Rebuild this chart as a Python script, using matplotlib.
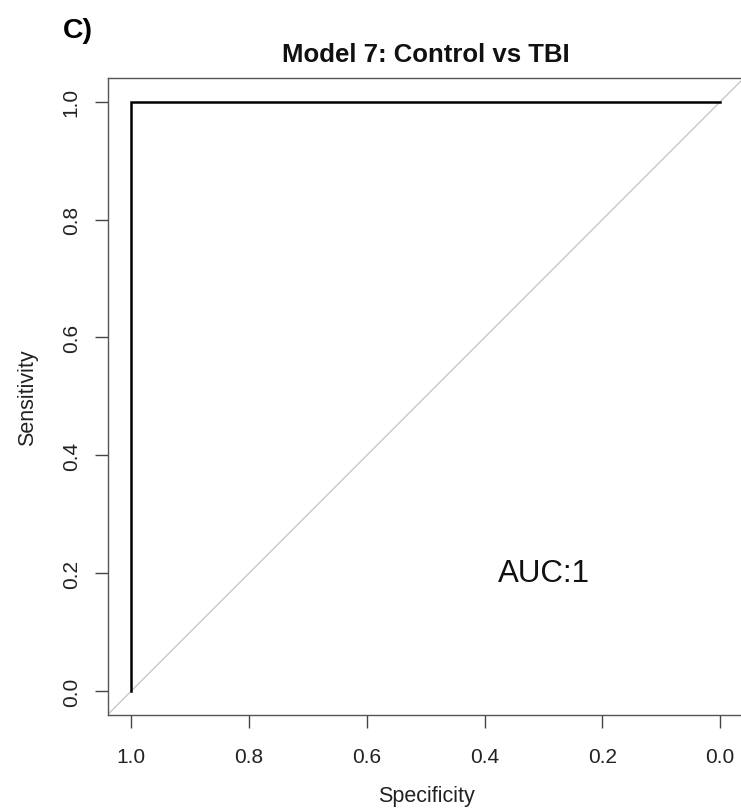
import matplotlib
matplotlib.use("Agg")
import matplotlib.pyplot as plt

# ---- data ----
specificity = [1.0, 1.0, 0.0]
sensitivity = [0.0, 1.0, 1.0]
tick_values = [1.0, 0.8, 0.6, 0.4, 0.2, 0.0]
xtick_labels = ["1.0", "0.8", "0.6", "0.4", "0.2", "0.0"]
ytick_values = [0.0, 0.2, 0.4, 0.6, 0.8, 1.0]
ytick_labels = ["0.0", "0.2", "0.4", "0.6", "0.8", "1.0"]
title = "Model 7: Control vs TBI"
panel_label = "C)"
auc_text = "AUC:1"

plt.rcParams['font.family'] = ['Liberation Sans', 'DejaVu Sans']

W, H = 741, 812
fig = plt.figure(figsize=(W / 100, H / 100), dpi=100)
left_px, right_px, top_px, bottom_px = 107.7, 743.8, 79.1, 715.6
ax = fig.add_axes([left_px / W, (H - bottom_px) / H,
                   (right_px - left_px) / W, (bottom_px - top_px) / H])
ax.set_xlim(1.04, -0.04)
ax.set_ylim(-0.04, 1.04)

# diagonal reference line
ax.axline((1, 0), (0, 1), color='#bdbdbd', lw=0.8, zorder=1)
# ROC curve
ax.plot(specificity, sensitivity, color='black', lw=1.8,
        solid_joinstyle='miter', zorder=2)

for s in ax.spines.values():
    s.set_color('#555555')
    s.set_linewidth(1.0)

ax.set_xticks(tick_values)
ax.set_xticklabels(xtick_labels)
ax.set_yticks(ytick_values)
ax.set_yticklabels(ytick_labels, rotation=90, va='center')
ax.tick_params(axis='both', length=9.4, width=1.0, color='#444444',
               labelsize=15, labelcolor='#222222')
ax.tick_params(axis='x', pad=14)
ax.tick_params(axis='y', pad=10)

ax.text(0.3, 0.2, auc_text, fontsize=22.5, ha='center', va='center',
        color='#111111')

# labels and titles at pixel positions
fig.text(426 / W, 1 - 797 / H, "Specificity", fontsize=15.5,
         ha='center', va='center', color='#222222')
fig.text(28 / W, 1 - 397.5 / H, "Sensitivity", fontsize=15.5,
         rotation=90, ha='center', va='center', color='#222222')
fig.text(426 / W, 1 - 61.5 / H, title, fontsize=18.5, fontweight='bold',
         ha='center', va='baseline', color='#111111')
fig.text(62.7 / W, 1 - 38 / H, panel_label, fontsize=20.5, fontweight='bold',
         ha='left', va='baseline', color='#000000')

fig.savefig("out.png", dpi=100)
